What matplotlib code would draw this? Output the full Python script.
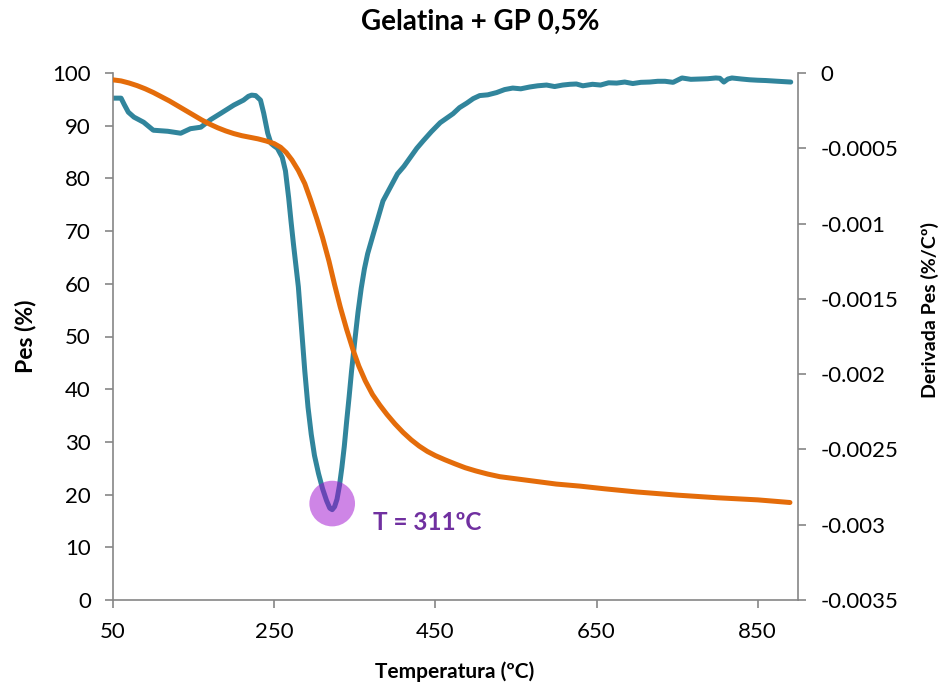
import matplotlib
matplotlib.use("Agg")
import matplotlib.pyplot as plt
import numpy as np

plt.rcParams['font.family'] = ['Lato', 'DejaVu Sans']

# Weight loss curve (left axis, %)
temp_w = [50, 60, 70, 80, 90, 100, 110, 120, 130, 140, 150, 160, 170, 180,
          190, 200, 210, 220, 230, 240, 250, 258, 265, 272, 280, 288, 295,
          303, 310, 318, 325, 332, 340, 348, 355, 363, 372, 381, 390, 400,
          410, 420, 430, 440, 450, 462, 475, 487, 500, 515, 530, 550, 575,
          600, 630, 660, 700, 750, 800, 850, 890]
weight = [98.7, 98.5, 98.1, 97.6, 97.0, 96.3, 95.5, 94.7, 93.8, 92.9, 92.0,
          91.1, 90.3, 89.6, 89.0, 88.5, 88.1, 87.8, 87.5, 87.1, 86.6, 85.9,
          84.9, 83.5, 81.5, 79.0, 76.0, 72.3, 68.8, 64.3, 59.8, 55.6, 51.3,
          47.4, 44.4, 41.6, 39.0, 37.0, 35.2, 33.4, 31.8, 30.4, 29.2, 28.2,
          27.4, 26.6, 25.8, 25.1, 24.5, 23.9, 23.4, 23.0, 22.5, 22.0, 21.6,
          21.1, 20.5, 19.9, 19.4, 19.0, 18.5]

# Derivative of weight (right axis, x 1e-4 %/ºC)
temp_d = [50, 60, 64, 69, 76, 88, 100, 118, 134, 146, 159, 171, 184, 200,
          212, 218, 222, 227, 233, 237, 242, 246, 250, 254, 260, 264, 268,
          271, 274, 277, 280, 284, 288, 292, 296, 300, 305, 310, 315, 319,
          322, 325, 328, 331, 334, 337, 340, 343, 346, 350, 354, 358, 362,
          366, 373, 379, 385, 394, 403, 411, 419, 427, 435, 445, 456, 464,
          472, 480, 489, 497, 505, 515, 526, 536, 546, 556, 567, 577, 588,
          598, 608, 617, 625, 633, 645, 655, 665, 675, 685, 695, 705, 716,
          726, 735, 745, 756, 767, 778, 788, 798, 803, 808, 813, 818, 830,
          840, 850, 860, 875, 891]
deriv_e4 = [-1.67, -1.67, -2.1, -2.6, -2.93, -3.27, -3.8, -3.87, -4.0, -3.7,
            -3.6, -3.1, -2.67, -2.13, -1.8, -1.55, -1.47, -1.5, -1.8, -2.67,
            -4.0, -4.67, -4.85, -5.0, -5.6, -6.5, -8.3, -9.9, -11.4, -12.8,
            -14.2, -17.0, -19.8, -22.2, -24.0, -25.4, -26.6, -27.6, -28.4,
            -28.9, -29.0, -28.8, -28.3, -27.4, -26.2, -24.8, -23.1, -21.5,
            -19.8, -17.8, -15.9, -14.3, -13.0, -12.0, -10.7, -9.6, -8.5, -7.6,
            -6.7, -6.2, -5.6, -5.0, -4.5, -3.9, -3.3, -3.0, -2.7, -2.3, -2.0,
            -1.7, -1.5, -1.45, -1.3, -1.1, -1.0, -1.05, -0.93, -0.85, -0.8,
            -0.9, -0.8, -0.75, -0.73, -0.85, -0.75, -0.8, -0.65, -0.67, -0.6,
            -0.7, -0.62, -0.6, -0.55, -0.55, -0.62, -0.33, -0.42, -0.4, -0.38,
            -0.33, -0.35, -0.6, -0.4, -0.33, -0.4, -0.45, -0.48, -0.5, -0.55,
            -0.6]
deriv = [v * 1e-4 for v in deriv_e4]

peak_label = 'T = 311ºC'
peak_weight_pos = 18.3

x_ticks = [50, 250, 450, 650, 850]
left_ticks = list(range(0, 101, 10))
right_ticks = [0, -0.0005, -0.001, -0.0015, -0.002, -0.0025, -0.003, -0.0035]
right_labels = ['0', '-0.0005', '-0.001', '-0.0015', '-0.002', '-0.0025',
                '-0.003', '-0.0035']

ORANGE = '#E46C0A'
TEAL = '#31859C'
AXIS_GRAY = '#868686'

fig = plt.figure(figsize=(9.46, 6.88), dpi=100)
ax = fig.add_axes([113 / 946, 88 / 688, (798 - 113) / 946, (600 - 73) / 688])
ax2 = ax.twinx()

ax.plot(temp_w, weight, color=ORANGE, lw=3.6, solid_capstyle='round',
        solid_joinstyle='round', zorder=3)
ax2.plot(temp_d, deriv, color=TEAL, lw=3.6, solid_capstyle='round',
         solid_joinstyle='round', zorder=3)

ax.set_xlim(50, 900)
ax.set_ylim(0, 100)
ax2.set_ylim(-0.0035, 0)

ax.set_xticks(x_ticks)
ax.set_yticks(left_ticks)
ax2.set_yticks(right_ticks)
ax2.set_yticklabels(right_labels)

for a in (ax, ax2):
    a.spines['top'].set_visible(False)
    for s in ('left', 'right', 'bottom'):
        a.spines[s].set_color(AXIS_GRAY)
        a.spines[s].set_linewidth(1.2)
    a.tick_params(colors=AXIS_GRAY, width=1.2, length=6, labelsize=16,
                  labelcolor='black', pad=10, direction='out')
ax.spines['right'].set_visible(False)
ax2.spines['left'].set_visible(False)
ax2.spines['bottom'].set_visible(False)

ax2.set_zorder(ax.get_zorder() + 1)
ax2.patch.set_visible(False)

# Highlight the minimum of the derivative curve
t_min = temp_d[int(np.argmin(deriv))]
ax.scatter([t_min], [peak_weight_pos], s=1080, color='#9E0DCF', alpha=0.5,
           edgecolors='none', zorder=10, clip_on=False)
ax.set_zorder(ax2.get_zorder() + 1)
ax.patch.set_visible(False)
fig.text(373 / 946, (688 - 523) / 688, peak_label, color='#7030A0',
         fontsize=17.5, fontweight='bold', va='center', ha='left')

fig.text(480 / 946, (688 - 22) / 688, 'Gelatina + GP 0,5%', fontsize=20,
         fontweight='bold', ha='center', va='center')
fig.text(25 / 946, (688 - 336) / 688, 'Pes (%)', fontsize=16.5,
         fontweight='bold', rotation=90, ha='center', va='center')
fig.text(930 / 946, (688 - 310) / 688, 'Derivada Pes (%/Cº)', fontsize=14,
         fontweight='bold', rotation=90, ha='center', va='center')
fig.text(455 / 946, (688 - 672) / 688, 'Temperatura (ºC)', fontsize=15,
         fontweight='bold', ha='center', va='center')

fig.savefig('out.png', dpi=100)
